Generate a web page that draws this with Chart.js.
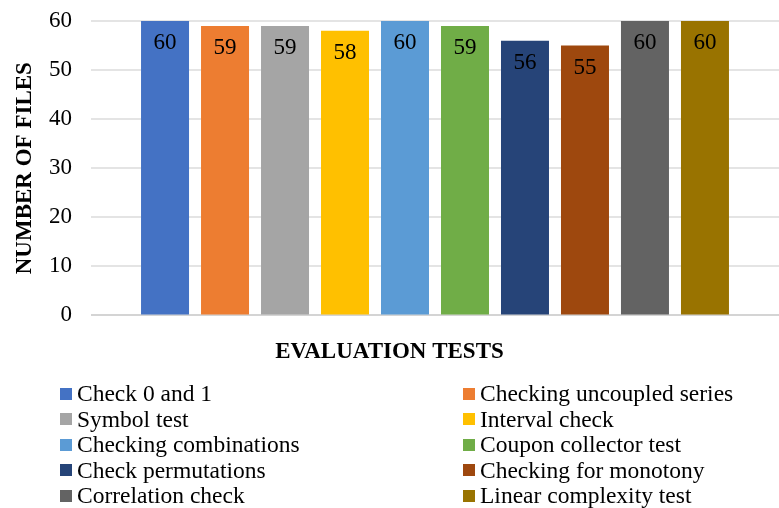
<!DOCTYPE html>
<html>
<head>
<meta charset="utf-8">
<script src="https://cdn.jsdelivr.net/npm/chart.js@4/dist/chart.umd.min.js"></script>
<style>
  html, body { margin: 0; padding: 0; background: #fff; }
  #wrap { position: relative; width: 779px; height: 508px; }
  #chart { position: absolute; left: 0; top: 0; }
  #legend {
    position: absolute; left: 60px; top: 381px; width: 719px;
    display: grid; grid-template-columns: 403px auto;
    font-family: "Liberation Serif", "Times New Roman", serif;
    font-size: 23.5px; color: #000;
  }
  .item { display: flex; align-items: center; height: 25.5px; white-space: nowrap; }
  .swatch { width: 12px; height: 12px; margin-right: 5px; flex: none; }
</style>
</head>
<body>
<div id="wrap">
  <canvas id="chart" width="779" height="508"></canvas>
  <div id="legend"></div>
</div>
<script>
// Evaluation tests and the number of files that passed each one
const testNames = [
  'Check 0 and 1', 'Checking uncoupled series', 'Symbol test', 'Interval check',
  'Checking combinations', 'Coupon collector test', 'Check permutations',
  'Checking for monotony', 'Correlation check', 'Linear complexity test'
];
const fileCounts = [60, 59, 59, 58, 60, 59, 56, 55, 60, 60];
const yTicks = [0, 10, 20, 30, 40, 50, 60];
const palette = [
  '#4472C4', '#ED7D31', '#A5A5A5', '#FFC000', '#5B9BD5',
  '#70AD47', '#264478', '#9E480E', '#636363', '#997300'
];

const serif = '"Liberation Serif", "Times New Roman", serif';

// Two-column legend, filled row by row
const legend = document.getElementById('legend');
testNames.forEach((name, i) => {
  const item = document.createElement('div');
  item.className = 'item';
  const sw = document.createElement('span');
  sw.className = 'swatch';
  sw.style.background = palette[i];
  const txt = document.createElement('span');
  txt.textContent = name;
  item.appendChild(sw);
  item.appendChild(txt);
  legend.appendChild(item);
});

// Value printed near the top inside each bar
const barValueLabels = {
  id: 'barValueLabels',
  afterDatasetsDraw(chart) {
    const ctx = chart.ctx;
    ctx.save();
    ctx.font = 'normal 23px ' + serif;
    ctx.fillStyle = '#000';
    ctx.textAlign = 'center';
    ctx.textBaseline = 'middle';
    chart.data.datasets.forEach((ds, i) => {
      const meta = chart.getDatasetMeta(i);
      meta.data.forEach((el, j) => {
        ctx.fillText(String(ds.data[j]), el.x, el.y + 22);
      });
    });
    ctx.restore();
  }
};

function drawChart() {
  new Chart(document.getElementById('chart'), {
    type: 'bar',
    data: {
      labels: [''],
      datasets: testNames.map((name, i) => ({
        label: name,
        data: [fileCounts[i]],
        backgroundColor: palette[i],
        borderWidth: 0,
        categoryPercentage: 0.872,
        barPercentage: 0.8
      }))
    },
    options: {
      responsive: false,
      animation: false,
      events: [],
      layout: { padding: { top: 21, right: 0, bottom: 138, left: 0 } },
      plugins: {
        legend: { display: false },
        tooltip: { enabled: false },
        title: {
          display: true,
          position: 'bottom',
          text: 'EVALUATION TESTS',
          color: '#000',
          font: { family: serif, size: 23, weight: 'bold', lineHeight: 1.2 },
          padding: { top: 23, bottom: 4 }
        }
      },
      scales: {
        x: { display: false },
        y: {
          min: 0,
          max: 60,
          afterBuildTicks(scale) { scale.ticks = yTicks.map(v => ({ value: v })); },
          afterFit(scale) {
            scale.width = 91;
            scale.paddingTop = 0;
            scale.paddingBottom = 0;
          },
          border: { display: false },
          grid: {
            drawTicks: false,
            lineWidth: 2,
            color: c => (c.tick && c.tick.value === 0) ? '#d4d4d4' : '#e4e4e4'
          },
          ticks: {
            padding: 19,
            color: '#000',
            font: { family: serif, size: 23, weight: 'normal' }
          },
          title: {
            display: true,
            text: 'NUMBER OF FILES',
            color: '#000',
            font: { family: serif, size: 23, weight: 'bold', lineHeight: 1.2 },
            padding: { top: 11, bottom: 0 }
          }
        }
      }
    },
    plugins: [barValueLabels]
  });
}

// Make sure the serif faces are ready before the canvas text is drawn
Promise.all([
  document.fonts.load('23px "Liberation Serif"'),
  document.fonts.load('bold 23px "Liberation Serif"')
]).then(drawChart, drawChart);
</script>
</body>
</html>
